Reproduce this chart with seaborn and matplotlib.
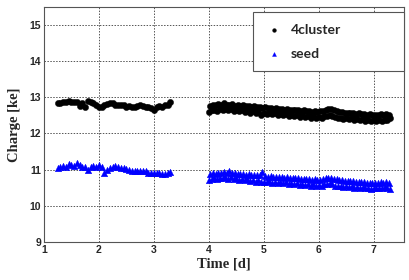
import numpy as np
import pandas as pd
import matplotlib
matplotlib.use("Agg")
import matplotlib.pyplot as plt
from matplotlib.ticker import MultipleLocator
import seaborn as sns

# first run (days 1.25 - 3.3)
time_a = [1.25, 1.30, 1.35, 1.40, 1.45, 1.50, 1.55, 1.60, 1.65, 1.70, 1.75, 1.80, 1.85, 1.90,
          1.95, 2.00, 2.05, 2.10, 2.15, 2.20, 2.25, 2.30, 2.35, 2.40, 2.45, 2.50, 2.55, 2.60,
          2.65, 2.70, 2.75, 2.80, 2.85, 2.90, 2.95, 3.00, 3.05, 3.10, 3.15, 3.20, 3.25, 3.30]
cluster_a = [12.84, 12.85, 12.86, 12.88, 12.89, 12.88, 12.87, 12.86, 12.76, 12.84, 12.74, 12.90, 12.87, 12.84,
             12.80, 12.72, 12.74, 12.78, 12.82, 12.85, 12.84, 12.80, 12.78, 12.80, 12.78, 12.74, 12.76, 12.74,
             12.72, 12.75, 12.78, 12.76, 12.74, 12.72, 12.70, 12.66, 12.72, 12.75, 12.72, 12.78, 12.80, 12.86]
seed_a = [11.05, 11.08, 11.10, 11.08, 11.15, 11.12, 11.10, 11.18, 11.12, 11.08, 11.06, 11.00, 11.08, 11.10,
          11.06, 11.12, 11.08, 10.90, 11.00, 11.05, 11.08, 11.10, 11.06, 11.05, 11.04, 11.02, 11.00, 10.96,
          10.97, 10.96, 10.97, 10.95, 10.96, 10.92, 10.91, 10.90, 10.90, 10.91, 10.89, 10.88, 10.92, 10.93]

# second run (days 4.0 - 7.3)
time_b = [4.000, 4.025, 4.050, 4.075, 4.100, 4.125, 4.150, 4.175, 4.200, 4.225,
          4.250, 4.275, 4.300, 4.325, 4.350, 4.375, 4.400, 4.425, 4.450, 4.475,
          4.500, 4.525, 4.550, 4.575, 4.600, 4.625, 4.650, 4.675, 4.700, 4.725,
          4.750, 4.775, 4.800, 4.825, 4.850, 4.875, 4.900, 4.925, 4.950, 4.975,
          5.000, 5.025, 5.050, 5.075, 5.100, 5.125, 5.150, 5.175, 5.200, 5.225,
          5.250, 5.275, 5.300, 5.325, 5.350, 5.375, 5.400, 5.425, 5.450, 5.475,
          5.500, 5.525, 5.550, 5.575, 5.600, 5.625, 5.650, 5.675, 5.700, 5.725,
          5.750, 5.775, 5.800, 5.825, 5.850, 5.875, 5.900, 5.925, 5.950, 5.975,
          6.000, 6.025, 6.050, 6.075, 6.100, 6.125, 6.150, 6.175, 6.200, 6.225,
          6.250, 6.275, 6.300, 6.325, 6.350, 6.375, 6.400, 6.425, 6.450, 6.475,
          6.500, 6.525, 6.550, 6.575, 6.600, 6.625, 6.650, 6.675, 6.700, 6.725,
          6.750, 6.775, 6.800, 6.825, 6.850, 6.875, 6.900, 6.925, 6.950, 6.975,
          7.000, 7.025, 7.050, 7.075, 7.100, 7.125, 7.150, 7.175, 7.200, 7.225,
          7.250, 7.275, 7.300]
cluster_b = [12.60, 12.76, 12.64, 12.80, 12.66, 12.78, 12.62, 12.82, 12.67, 12.79,
             12.65, 12.83, 12.68, 12.80, 12.64, 12.78, 12.69, 12.81, 12.63, 12.77,
             12.66, 12.79, 12.61, 12.76, 12.64, 12.78, 12.59, 12.75, 12.63, 12.77,
             12.58, 12.74, 12.61, 12.75, 12.56, 12.72, 12.60, 12.74, 12.50, 12.71,
             12.57, 12.72, 12.54, 12.70, 12.58, 12.71, 12.53, 12.69, 12.56, 12.70,
             12.51, 12.67, 12.55, 12.69, 12.50, 12.66, 12.54, 12.68, 12.49, 12.65,
             12.52, 12.66, 12.48, 12.64, 12.51, 12.65, 12.46, 12.62, 12.50, 12.64,
             12.45, 12.61, 12.49, 12.63, 12.44, 12.60, 12.48, 12.62, 12.43, 12.59,
             12.46, 12.61, 12.44, 12.62, 12.49, 12.66, 12.48, 12.68, 12.51, 12.67,
             12.49, 12.64, 12.45, 12.61, 12.43, 12.59, 12.44, 12.60, 12.41, 12.57,
             12.43, 12.58, 12.40, 12.56, 12.42, 12.57, 12.38, 12.55, 12.41, 12.56,
             12.37, 12.54, 12.39, 12.54, 12.35, 12.52, 12.38, 12.53, 12.34, 12.51,
             12.37, 12.52, 12.34, 12.51, 12.36, 12.53, 12.35, 12.52, 12.38, 12.54,
             12.36, 12.50, 12.42]
seed_b = [10.72, 10.88, 10.75, 10.91, 10.77, 10.89, 10.74, 10.92, 10.78, 10.90,
          10.76, 10.93, 10.79, 10.91, 10.75, 10.96, 10.80, 10.92, 10.74, 10.90,
          10.76, 10.89, 10.72, 10.88, 10.75, 10.89, 10.70, 10.86, 10.73, 10.88,
          10.69, 10.85, 10.72, 10.86, 10.67, 10.84, 10.71, 10.85, 10.66, 10.93,
          10.67, 10.83, 10.65, 10.81, 10.69, 10.82, 10.64, 10.80, 10.67, 10.81,
          10.63, 10.79, 10.66, 10.80, 10.62, 10.78, 10.65, 10.79, 10.61, 10.77,
          10.63, 10.77, 10.60, 10.76, 10.62, 10.77, 10.58, 10.74, 10.61, 10.75,
          10.57, 10.73, 10.60, 10.74, 10.56, 10.72, 10.59, 10.73, 10.55, 10.71,
          10.58, 10.72, 10.56, 10.74, 10.60, 10.77, 10.59, 10.78, 10.62, 10.77,
          10.60, 10.75, 10.56, 10.73, 10.55, 10.71, 10.56, 10.71, 10.53, 10.69,
          10.54, 10.69, 10.52, 10.68, 10.54, 10.68, 10.50, 10.66, 10.53, 10.67,
          10.49, 10.65, 10.51, 10.65, 10.48, 10.64, 10.50, 10.64, 10.47, 10.63,
          10.50, 10.64, 10.48, 10.63, 10.50, 10.65, 10.49, 10.64, 10.51, 10.66,
          10.49, 10.62, 10.46]

sns.set_style("white")
plt.rcParams["font.family"] = ["Liberation Sans", "DejaVu Sans"]

time_all = time_a + time_b
cluster_all = cluster_a + cluster_b
seed_all = seed_a + seed_b

fig = plt.figure(figsize=(4.09, 2.80), dpi=100)
ax = fig.add_axes([0.1076, 0.136, 0.880, 0.839])

sns.scatterplot(x=time_all, y=cluster_all, ax=ax, marker="o", s=20,
                color="black", edgecolor="black", linewidth=0.3, label="4cluster", zorder=3)
sns.scatterplot(x=time_all, y=seed_all, ax=ax, marker="^", s=22,
                color="#0000ff", edgecolor="#0000ff", linewidth=0.3, label="seed", zorder=3)

ax.set_xlim(1, 7.55)
ax.set_ylim(9, 15.5)
ax.xaxis.set_major_locator(MultipleLocator(1))
ax.xaxis.set_minor_locator(MultipleLocator(0.2))
ax.yaxis.set_major_locator(MultipleLocator(1))
ax.yaxis.set_minor_locator(MultipleLocator(0.1))
ax.tick_params(which="major", direction="in", length=6, width=0.8, color="#444444",
               labelsize=7.5, pad=2)
ax.tick_params(which="minor", direction="in", length=3, width=0.6, color="#444444")
for lab in ax.get_xticklabels() + ax.get_yticklabels():
    lab.set_fontweight("bold")

ax.grid(True, which="major", linestyle=(0, (1.5, 1.5)), linewidth=0.7, color="#555555")
ax.set_axisbelow(True)
for sp in ax.spines.values():
    sp.set_color("#555555")
    sp.set_linewidth(0.8)

ax.set_xlabel("Time [d]", family=["Liberation Serif"], fontweight="bold", fontsize=10.5, labelpad=2)
ax.set_ylabel("Charge [ke]", family=["Liberation Serif"], fontweight="bold", fontsize=10.5, labelpad=6)

leg = ax.legend(loc="upper left", bbox_to_anchor=(0.58, 0.745, 0.42, 0.234), mode="expand",
                frameon=True, fancybox=False,
                prop={"family": "Lato", "weight": "bold", "size": 10}, borderpad=0.85,
                labelspacing=0.85, handletextpad=0.5, handlelength=1.4,
                borderaxespad=0, markerscale=0.6)
leg.get_frame().set_edgecolor("#555555")
leg.get_frame().set_linewidth(0.8)
leg.get_frame().set_alpha(1.0)

fig.savefig("out.png", dpi=100)
